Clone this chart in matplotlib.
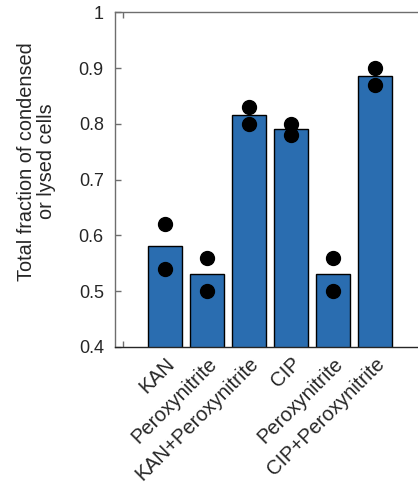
import matplotlib
matplotlib.use("Agg")
import matplotlib.pyplot as plt
import numpy as np

plt.rcParams["font.family"] = ["Liberation Sans", "DejaVu Sans"]

# data
labels = ["KAN", "Peroxynitrite", "KAN+Peroxynitrite", "CIP", "Peroxynitrite", "CIP+Peroxynitrite"]
means = [0.58, 0.53, 0.815, 0.79, 0.53, 0.885]
rep1 = [0.62, 0.56, 0.83, 0.80, 0.56, 0.90]
rep2 = [0.54, 0.50, 0.80, 0.78, 0.50, 0.87]

BAR = "#2a6db0"
AXC = "#6e6e6e"

fig = plt.figure(figsize=(4.18, 4.92), dpi=100)
ax = fig.add_axes([0.275, 0.295, 0.742, 0.68])

x = np.arange(1, len(labels) + 1)
ax.bar(x, means, width=0.8, color=BAR, edgecolor="black", linewidth=1.0, zorder=2)
ax.plot(x, rep1, "o", color="black", markersize=10, zorder=3, clip_on=False)
ax.plot(x, rep2, "o", color="black", markersize=10, zorder=3, clip_on=False)

ax.set_xlim(-0.2, 7.2)
ax.set_ylim(0.4, 1.0)
ax.set_yticks(np.arange(0.4, 1.01, 0.1))
ax.set_yticklabels(["0.4", "0.5", "0.6", "0.7", "0.8", "0.9", "1"])
ax.set_xticks(x)
ax.set_xticklabels(labels, rotation=45, ha="right", rotation_mode="anchor")
ax.set_xticks([0, 2, 4, 6], minor=True)

ax.tick_params(axis="x", which="major", length=0, pad=5, labelsize=14.5, labelcolor="#262626")
ax.tick_params(axis="x", which="minor", direction="in", length=4, top=True, bottom=True,
               color=AXC, width=1)
ax.tick_params(axis="y", direction="in", length=4, right=True, labelsize=13,
               color=AXC, width=1, pad=8, labelcolor="#262626")

for s in ax.spines.values():
    s.set_color(AXC)
    s.set_linewidth(1.0)
ax.spines["bottom"].set_color("#262626")

ax.set_ylabel("Total fraction of condensed\nor lysed cells", fontsize=14.3, color="#262626",
              linespacing=1.1)
ax.yaxis.set_label_coords(-0.19, 0.555)

fig.savefig("out.png", dpi=100)
